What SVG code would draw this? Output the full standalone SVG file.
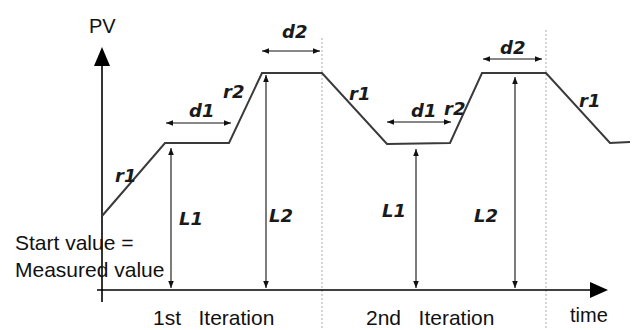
<svg xmlns="http://www.w3.org/2000/svg" width="637" height="330" viewBox="0 0 637 330">
<style>
.axis{stroke:#000;stroke-width:1.6;fill:none}
.prof{stroke:#3a3a3a;stroke-width:2;fill:none;stroke-linejoin:miter}
.dim{stroke:#111;stroke-width:1.1;fill:none;marker-start:url(#ah);marker-end:url(#ah)}
.dot{stroke:#aaa;stroke-width:1;stroke-dasharray:2 2;fill:none}
.seg{font-family:"DejaVu Sans",sans-serif;font-style:italic;font-weight:bold;font-size:18px;fill:#1a1a1a}
.txt{font-family:"Liberation Sans",Arial,sans-serif;font-size:21px;fill:#111;white-space:pre}
</style>
<defs>
<marker id="ah" viewBox="0 0 10 10" refX="10" refY="5" markerWidth="7" markerHeight="7" orient="auto-start-reverse" markerUnits="userSpaceOnUse">
<path d="M0,1 L10,5 L0,9 Z" fill="#111"/>
</marker>
</defs>
<rect width="637" height="330" fill="#fff"/>
<g id="grid">
<line class="dot" x1="322" y1="38" x2="322" y2="330"/>
<line class="dot" x1="546" y1="30" x2="546" y2="330"/>
</g>
<g id="axes">
<line class="axis" x1="102" y1="62" x2="102" y2="302"/>
<path d="M102,47 L110,66 L94,66 Z" fill="#000"/>
<line class="axis" x1="97" y1="290" x2="592" y2="290"/>
<path d="M608,290 L590,282 L590,298 Z" fill="#000"/>
</g>
<g id="profile">
<polyline class="prof" points="102,216 165,143 229,143 262,73 322,73 387,144 450,143 482,73 546,73 610,143 630,142"/>
</g>
<g id="connectors">
<line class="dim" x1="166" y1="123" x2="231" y2="123"/>
<line class="dim" x1="262" y1="51" x2="320" y2="51"/>
<line class="dim" x1="387" y1="122" x2="451" y2="122"/>
<line class="dim" x1="483" y1="59" x2="542" y2="59"/>
<line class="dim" x1="171" y1="148" x2="171" y2="288"/>
<line class="dim" x1="266" y1="75" x2="266" y2="288"/>
<line class="dim" x1="416" y1="149" x2="416" y2="288"/>
<line class="dim" x1="515" y1="77" x2="515" y2="288"/>
</g>
<g id="labels">
<text class="seg" x="115" y="182">r1</text>
<text class="seg" x="189" y="117">d1</text>
<text class="seg" x="223" y="98">r2</text>
<text class="seg" x="282" y="38">d2</text>
<text class="seg" x="179" y="225">L1</text>
<text class="seg" x="269" y="222">L2</text>
<text class="seg" x="349" y="100">r1</text>
<text class="seg" x="411" y="117">d1</text>
<text class="seg" x="444" y="115">r2</text>
<text class="seg" x="500" y="54">d2</text>
<text class="seg" x="382" y="217">L1</text>
<text class="seg" x="474" y="222">L2</text>
<text class="seg" x="579" y="107">r1</text>
</g>
<g id="texts">
<text class="txt" x="89" y="33" style="font-size:20px">PV</text>
<text class="txt" x="15" y="250">Start value =</text>
<text class="txt" x="15" y="277">Measured value</text>
<text class="txt" x="153" y="325">1st   Iteration</text>
<text class="txt" x="366" y="325">2nd   Iteration</text>
<text class="txt" x="570" y="322" style="font-size:20px">time</text>
</g>
</svg>
